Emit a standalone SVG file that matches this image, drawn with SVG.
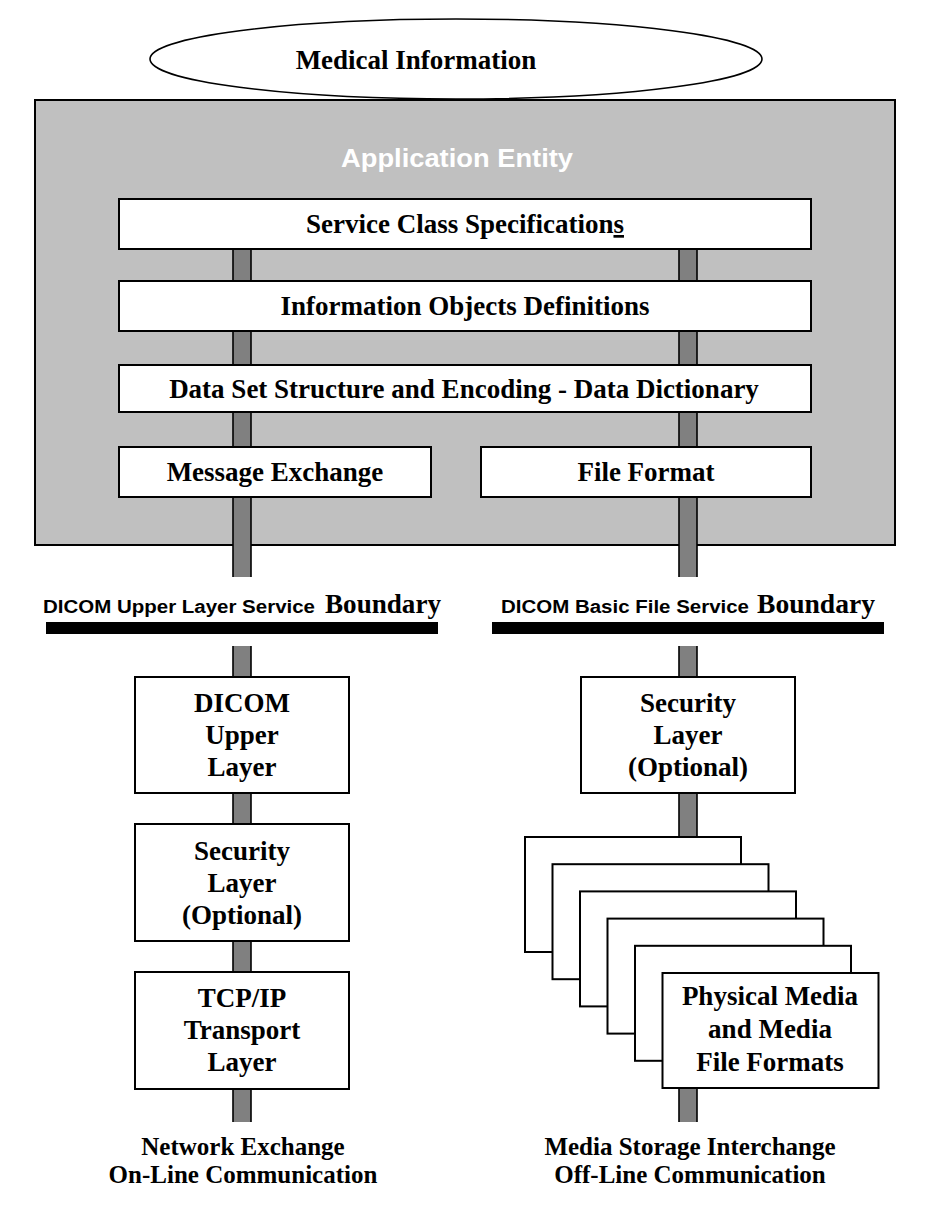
<svg xmlns="http://www.w3.org/2000/svg" width="938" height="1214" viewBox="0 0 938 1214">
<style>
.bg{fill:#ffffff}
.entity{fill:#c0c0c0;stroke:#000;stroke-width:2}
.box{fill:#fff;stroke:#000;stroke-width:2}
.bar{fill:#808080}
.edge{stroke:#000;stroke-width:1.6;fill:none}
.bnd{fill:#000}
.t{font-family:"Liberation Serif","Times New Roman",serif;font-weight:bold;font-size:27px;fill:#000;text-anchor:middle}
.b{font-family:"Liberation Serif","Times New Roman",serif;font-weight:bold;font-size:25px;fill:#000;text-anchor:middle}
.s{font-family:"Liberation Sans",Arial,sans-serif;font-weight:bold;font-size:18px;fill:#000}
.sb{font-family:"Liberation Serif","Times New Roman",serif;font-weight:bold;font-size:27px;fill:#000}
.ae{font-family:"Liberation Sans",Arial,sans-serif;font-weight:bold;font-size:26px;fill:#fff;text-anchor:middle}
</style>
<rect class="bg" x="0" y="0" width="938" height="1214"/>

<g id="medical-information">
<ellipse cx="456" cy="59" rx="306" ry="40" fill="#fff" stroke="#000" stroke-width="1.6"/>
<text class="t" x="416" y="69">Medical Information</text>
</g>

<g id="application-entity">
<rect class="entity" x="35" y="100" width="860" height="445"/>
<text class="ae" x="457" y="167" textLength="232" lengthAdjust="spacingAndGlyphs">Application Entity</text>
</g>

<g id="connectors">
<rect class="bar" x="233" y="249" width="18" height="328"/>
<path class="edge" d="M233 249V577M251 249V577"/>
<rect class="bar" x="679" y="249" width="18" height="328"/>
<path class="edge" d="M679 249V577M697 249V577"/>
<rect class="bar" x="233" y="646" width="18" height="476"/>
<path class="edge" d="M233 646V1122M251 646V1122"/>
<rect class="bar" x="679" y="646" width="18" height="476"/>
<path class="edge" d="M679 646V1122M697 646V1122"/>
</g>

<g id="service-class">
<rect class="box" x="119" y="199" width="692" height="50"/>
<text class="t" x="465" y="233">Service Class Specification<tspan text-decoration="underline">s</tspan></text>
</g>
<g id="information-objects">
<rect class="box" x="119" y="281" width="692" height="50"/>
<text class="t" x="465" y="315">Information Objects Definitions</text>
</g>
<g id="data-set">
<rect class="box" x="119" y="365" width="692" height="47"/>
<text class="t" x="464" y="398">Data Set Structure and Encoding - Data Dictionary</text>
</g>
<g id="message-exchange">
<rect class="box" x="119" y="447" width="312" height="50"/>
<text class="t" x="275" y="481">Message Exchange</text>
</g>
<g id="file-format">
<rect class="box" x="481" y="447" width="330" height="50"/>
<text class="t" x="646" y="481">File Format</text>
</g>

<g id="upper-layer-boundary">
<text x="43" y="613"><tspan class="s" textLength="272" lengthAdjust="spacingAndGlyphs">DICOM Upper Layer Service</tspan></text>
<text class="sb" x="325" y="613" textLength="116" lengthAdjust="spacingAndGlyphs">Boundary</text>
<rect class="bnd" x="46" y="622" width="392" height="12"/>
</g>
<g id="file-service-boundary">
<text x="501" y="613"><tspan class="s" textLength="248" lengthAdjust="spacingAndGlyphs">DICOM Basic File Service</tspan></text>
<text class="sb" x="757" y="613" textLength="118" lengthAdjust="spacingAndGlyphs">Boundary</text>
<rect class="bnd" x="492" y="622" width="392" height="12"/>
</g>

<g id="dicom-upper-layer">
<rect class="box" x="135" y="677" width="214" height="116"/>
<text class="t" x="242" y="712">DICOM</text>
<text class="t" x="242" y="744">Upper</text>
<text class="t" x="242" y="776">Layer</text>
</g>
<g id="security-left">
<rect class="box" x="135" y="824" width="214" height="117"/>
<text class="t" x="242" y="860">Security</text>
<text class="t" x="242" y="892">Layer</text>
<text class="t" x="242" y="924">(Optional)</text>
</g>
<g id="tcp-ip">
<rect class="box" x="135" y="972" width="214" height="117"/>
<text class="t" x="242" y="1007">TCP/IP</text>
<text class="t" x="242" y="1039">Transport</text>
<text class="t" x="242" y="1071">Layer</text>
</g>

<g id="security-right">
<rect class="box" x="581" y="677" width="214" height="116"/>
<text class="t" x="688" y="712">Security</text>
<text class="t" x="688" y="744">Layer</text>
<text class="t" x="688" y="776">(Optional)</text>
</g>

<g id="physical-media">
<rect class="box" x="525" y="837" width="216" height="115"/>
<rect class="box" x="552.5" y="864.2" width="216" height="115"/>
<rect class="box" x="580" y="891.4" width="216" height="115"/>
<rect class="box" x="607.5" y="918.6" width="216" height="115"/>
<rect class="box" x="635" y="945.8" width="216" height="115"/>
<rect class="box" x="662.5" y="973" width="216" height="115"/>
<text class="t" x="770" y="1005">Physical Media</text>
<text class="t" x="770" y="1038">and Media</text>
<text class="t" x="770" y="1071">File Formats</text>
</g>

<g id="network-exchange">
<text class="b" x="243" y="1155">Network Exchange</text>
<text class="b" x="243" y="1183">On-Line Communication</text>
</g>
<g id="media-storage">
<text class="b" x="690" y="1155">Media Storage Interchange</text>
<text class="b" x="690" y="1183">Off-Line Communication</text>
</g>
</svg>
